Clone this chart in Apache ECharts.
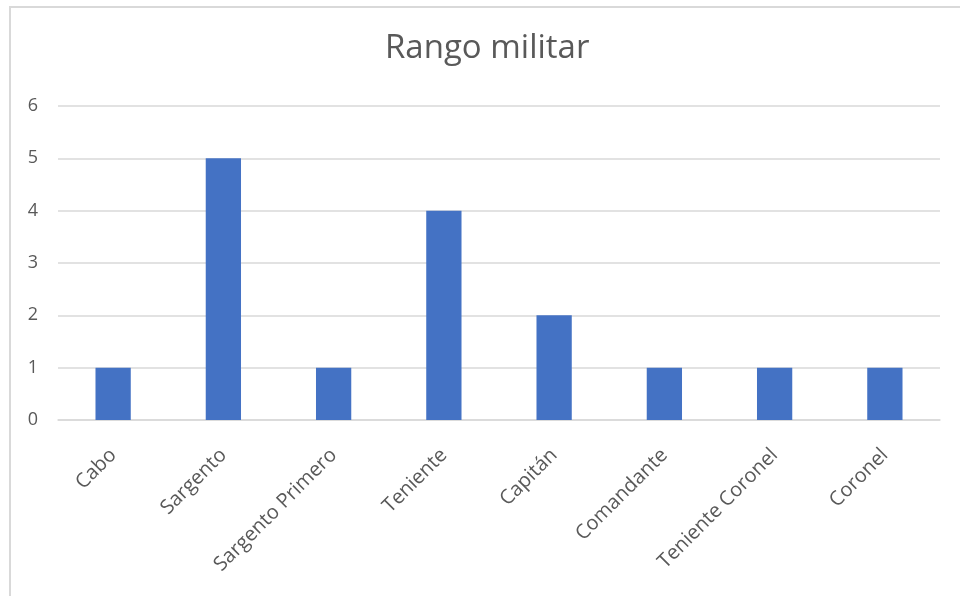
<!DOCTYPE html>
<html>
<head>
<meta charset="utf-8">
<script src="https://cdn.jsdelivr.net/npm/echarts@6/dist/echarts.min.js"></script>
<style>
  html, body { margin: 0; padding: 0; background: #fff; }
  #frame {
    position: absolute; left: 9px; top: 6px; width: 960px; height: 600px;
    border-left: 2px solid #d9d9d9; border-top: 2px solid #d9d9d9;
  }
  #chart { position: absolute; left: 0; top: 0; width: 960px; height: 596px; }
</style>
</head>
<body>
<div id="frame"></div>
<div id="chart"></div>
<script>
// rangos y cantidades
const categories = ['Cabo', 'Sargento', 'Sargento Primero', 'Teniente', 'Capitán', 'Comandante', 'Teniente Coronel', 'Coronel']
const values = [1, 5, 1, 4, 2, 1, 1, 1]

const chart = echarts.init(document.getElementById('chart'))

const option = {
  backgroundColor: 'transparent',
  title: {
    text: 'Rango militar',
    left: 380,
    top: 27,
    textStyle: { fontFamily: 'Open Sans', fontSize: 33, fontWeight: 'normal', color: '#595959' },
  },
  grid: { left: 58, right: 20, top: 106, bottom: 176 },
  xAxis: {
    type: 'category',
    data: categories,
    axisLine: { lineStyle: { color: '#d9d9d9', width: 1.5 } },
    axisTick: { show: false },
    axisLabel: {
      rotate: 45,
      margin: 32,
      interval: 0,
      fontFamily: 'Open Sans',
      fontSize: 20,
      color: '#595959',
    },
  },
  yAxis: {
    type: 'value',
    min: 0,
    max: 6,
    interval: 1,
    axisLine: { show: false },
    axisTick: { show: false },
    axisLabel: { margin: 20, fontFamily: 'Open Sans', fontSize: 18, color: '#595959' },
    splitLine: { lineStyle: { color: '#d9d9d9', width: 1.5 } },
  },
  series: [
    {
      type: 'bar',
      data: values,
      barWidth: '32%',
      itemStyle: { color: '#4472c4' },
    },
  ],
}

chart.setOption(option)
</script>
</body>
</html>
